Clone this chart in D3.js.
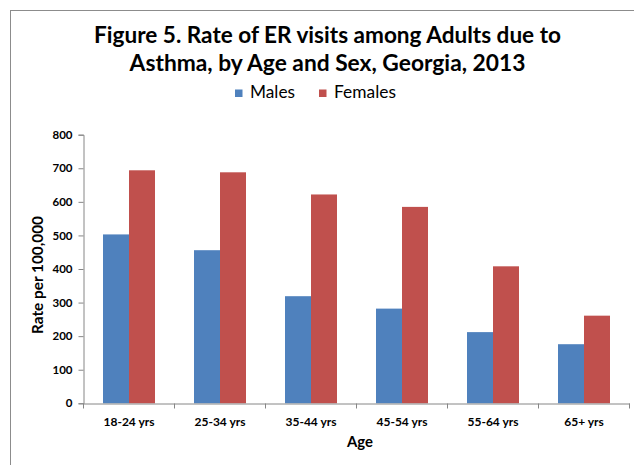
<!DOCTYPE html>
<html>
<head>
<meta charset="utf-8">
<script src="https://cdn.jsdelivr.net/npm/d3@7"></script>
<style>
  html, body { margin: 0; padding: 0; background: #fff; }
  svg { display: block; font-family: Lato, "Open Sans", sans-serif; }
</style>
</head>
<body>
<svg id="chart" width="634" height="465"></svg>
<script>
const categories = ["18-24 yrs", "25-34 yrs", "35-44 yrs", "45-54 yrs", "55-64 yrs", "65+ yrs"];
const seriesNames = ["Males", "Females"];
const males = [503, 456, 319, 282, 212, 176];
const females = [694, 688, 622, 585, 408, 261];
const yTicks = [0, 100, 200, 300, 400, 500, 600, 700, 800];
const titleLines = ["Figure 5. Rate of ER visits among Adults due to", "Asthma, by Age and Sex, Georgia, 2013"];
const colors = ["#4F81BD", "#C0504D"];

const svg = d3.select("#chart");

// fit text to a target width by scaling font size
function fit(sel, base, target) {
  sel.style("font-size", base + "px");
  const w = sel.node().getComputedTextLength();
  if (w > 0) sel.style("font-size", (base * target / w).toFixed(2) + "px");
  return sel;
}

// chart border (cropped on right/bottom)
svg.append("rect")
  .attr("x", 10.5).attr("y", 10.5)
  .attr("width", 700).attr("height", 600)
  .attr("fill", "none").attr("stroke", "#8c8c8c").attr("stroke-width", 1);

// Title
const tl = [{t: titleLines[0], y: 43, w: 467}, {t: titleLines[1], y: 71, w: 396}];
tl.forEach(d => {
  const t = svg.append("text").attr("x", 327.5).attr("y", d.y)
    .attr("text-anchor", "middle").attr("font-weight", "bold").attr("fill", "#000").text(d.t);
  fit(t, 23, d.w);
});

// Plot scales
const x = d3.scaleBand().domain(categories).range([83.5, 629.5]).paddingInner(0).paddingOuter(0);
const xs = d3.scaleBand().domain(seriesNames).range([0, x.bandwidth()]).paddingInner(0).paddingOuter(0.75);
const y = d3.scaleLinear().domain([0, 800]).range([403.3, 134.7]);

const data = categories.map((c, i) => ({cat: c, vals: [males[i], females[i]]}));

// Bars
const g = svg.append("g");
data.forEach(d => {
  d.vals.forEach((v, j) => {
    g.append("rect")
      .attr("x", x(d.cat) + xs(seriesNames[j]))
      .attr("y", y(v))
      .attr("width", xs.bandwidth())
      .attr("height", y(0) - y(v))
      .attr("fill", colors[j]);
  });
});

// Y axis
const yAxis = svg.append("g").attr("transform", "translate(83.5,0)")
  .call(d3.axisLeft(y).tickValues(yTicks).tickSize(5).tickPadding(6));
yAxis.select(".domain").attr("stroke", "#868686");
yAxis.selectAll(".tick line").attr("stroke", "#868686");
yAxis.selectAll(".tick text").attr("font-family", "Lato, sans-serif").attr("font-weight", "bold")
  .attr("font-size", "11.5px").attr("fill", "#000");

// X axis
const xAxis = svg.append("g").attr("transform", "translate(0,403.5)")
  .call(d3.axisBottom(x).tickSize(0).tickPadding(14));
xAxis.select(".domain").attr("stroke", "#868686");
xAxis.selectAll(".tick text").attr("font-family", "Lato, sans-serif").attr("font-weight", "bold")
  .attr("font-size", "12px").attr("fill", "#000");
// boundary ticks
const bounds = categories.map(c => x(c)).concat([x.range()[1]]);
xAxis.selectAll("line.bt").data(bounds).enter().append("line")
  .attr("class", "bt")
  .attr("x1", d => d).attr("x2", d => d).attr("y1", 0).attr("y2", 5)
  .attr("stroke", "#868686");

// Axis titles
const ax = svg.append("text").attr("x", 360).attr("y", 447).attr("text-anchor", "middle")
  .attr("font-weight", "bold").attr("fill", "#000").text("Age");
fit(ax, 15, 26);
const ay = svg.append("text").attr("transform", "translate(43,275) rotate(-90)")
  .attr("text-anchor", "middle").attr("font-weight", "bold").attr("fill", "#000").text("Rate per 100,000");
fit(ay, 12.5, 118);

// Legend
const legendX = [235, 319];
const legendW = [45, 62];
seriesNames.forEach((s, j) => {
  svg.append("rect").attr("x", legendX[j]).attr("y", 89.5).attr("width", 7.5).attr("height", 7.5)
    .attr("fill", colors[j]);
  const t = svg.append("text").attr("x", legendX[j] + 15).attr("y", 98.3).attr("fill", "#000").text(s);
  fit(t, 15, legendW[j]);
});
</script>
</body>
</html>
